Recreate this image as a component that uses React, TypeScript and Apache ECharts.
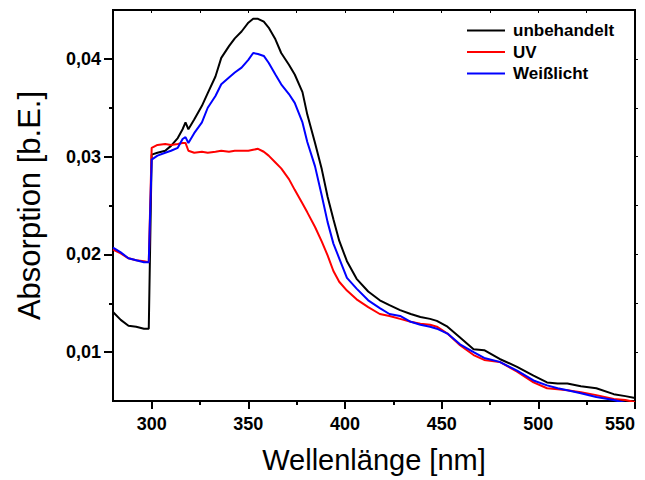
import React, { useEffect, useRef } from "react";
import * as echarts from "echarts";

// Wavelength in nm
const wavelengths = [
  280, 284, 288, 292, 296, 298.5, 300, 303, 307, 310, 313.5, 316, 317.5, 319, 322, 326, 329,
  333, 336, 340, 343, 346.5, 350, 352.5, 355, 358, 360.5, 364, 367, 371, 374, 378, 380.5,
  384.5, 388, 391, 394, 397, 401, 406, 412, 418, 423, 428.5, 434, 439, 444, 447.5, 453,
  459.5, 466.5, 472, 480, 489, 497.5, 504.5, 510, 515, 522, 530, 539, 545, 550,
];

// Absorption values in units of 0.001 [b.E.]
const unbehandelt = [
  14.1, 13.3, 12.7, 12.6, 12.4, 12.4, 30.2, 30.4, 30.6, 31.1, 31.9, 32.8, 33.5, 32.8, 33.8, 35.2, 36.5,
  38.2, 40.1, 41.3, 42.1, 42.8, 43.7, 44.1, 44.1, 43.8, 43.2, 42.0, 40.6, 39.4, 38.4, 36.6, 34.3,
  31.4, 28.7, 25.9, 23.6, 21.4, 19.3, 17.5, 16.2, 15.3, 14.8, 14.3, 13.9, 13.6, 13.4, 13.2, 12.6,
  11.5, 10.3, 10.2, 9.3, 8.5, 7.6, 6.9, 6.8, 6.8, 6.5, 6.3, 5.7, 5.5, 5.3,
];
const uv = [
  20.5, 20.1, 19.6, 19.4, 19.3, 19.2, 30.9, 31.2, 31.3, 31.2, 31.3, 31.4, 31.4, 30.6, 30.4, 30.5, 30.4,
  30.5, 30.6, 30.5, 30.6, 30.6, 30.6, 30.7, 30.8, 30.5, 30.1, 29.4, 28.8, 27.7, 26.6, 25.2, 24.3,
  22.8, 21.3, 19.9, 18.3, 17.2, 16.3, 15.4, 14.6, 13.9, 13.7, 13.4, 13.1, 12.9, 12.8, 12.6, 11.9,
  10.7, 9.7, 9.2, 9.0, 8.0, 6.9, 6.3, 6.2, 6.1, 5.9, 5.6, 5.2, 5.1, 4.9,
];
const weisslicht = [
  20.7, 20.2, 19.6, 19.4, 19.2, 19.2, 29.7, 30.1, 30.4, 30.6, 30.9, 31.8, 32.0, 31.4, 32.4, 33.5, 35.0,
  36.2, 37.4, 38.1, 38.6, 39.1, 39.9, 40.6, 40.5, 40.3, 39.6, 38.4, 37.4, 36.4, 35.5, 33.5, 31.5,
  29.0, 26.0, 23.3, 21.1, 19.6, 17.6, 16.5, 15.3, 14.5, 13.9, 13.7, 13.1, 12.8, 12.6, 12.4, 11.9,
  10.8, 10.0, 9.4, 9.0, 8.1, 7.1, 6.6, 6.3, 6.1, 5.8, 5.4, 5.1, 4.8, 4.6,
];

const seriesNames = ["unbehandelt", "UV", "Weißlicht"];
const seriesColors = ["#000000", "#ff0000", "#0000ff"];
const seriesValues = [unbehandelt, uv, weisslicht];

const xMajorTicks = [300, 350, 400, 450, 500, 550];
const xMinorTicks = [325, 375, 425, 475, 525];
const xTopTicks = [300, 325, 350, 375, 400, 425, 450, 475, 500, 525, 550];
const yMajorTicks = [0.01, 0.02, 0.03, 0.04];
const yMinorTicks = [0.015, 0.025, 0.035];
const yRightTicks = [0.01, 0.015, 0.02, 0.025, 0.03, 0.035, 0.04];

const FONT = "'Liberation Sans', Arial, sans-serif";

export default function App() {
  const ref = useRef<HTMLDivElement>(null);
  useEffect(() => {
    if (!ref.current) return;
    const chart = echarts.init(ref.current, null, { renderer: "svg" });
    const black = "#000";
    chart.setOption({
      animation: false,
      backgroundColor: "#fff",
      grid: {
        left: 113,
        right: 10,
        top: 10,
        bottom: 79,
        outerBoundsMode: "none",
        containLabel: false,
        show: true,
        borderColor: black,
        borderWidth: 2,
        backgroundColor: "transparent",
      },
      legend: {
        orient: "vertical",
        left: 467,
        top: 22,
        padding: 0,
        icon: "rect",
        itemWidth: 38,
        itemHeight: 2,
        itemGap: 4.5,
        data: seriesNames,
        textStyle: {
          fontFamily: FONT,
          fontWeight: "bold",
          fontSize: 17,
          color: black,
          padding: [0, 0, 0, 3],
        },
      },
      xAxis: [
        {
          type: "value",
          min: 280,
          max: 550,
          position: "bottom",
          name: "Wellenlänge [nm]",
          nameLocation: "middle",
          nameGap: 44,
          nameTextStyle: { fontFamily: FONT, fontSize: 29, color: black },
          axisLine: { show: true, lineStyle: { color: black, width: 2 } },
          axisTick: {
            show: true,
            length: 8,
            lineStyle: { color: black, width: 2 },
            customValues: xMajorTicks,
          },
          axisLabel: {
            customValues: xMajorTicks,
            alignMaxLabel: "right",
            fontFamily: FONT,
            fontWeight: "bold",
            fontSize: 18,
            color: black,
            margin: 14,
          },
          splitLine: { show: false },
        },
        {
          type: "value",
          min: 280,
          max: 550,
          position: "bottom",
          axisLine: { show: false },
          axisTick: {
            show: true,
            length: 4,
            lineStyle: { color: black, width: 2 },
            customValues: xMinorTicks,
          },
          axisLabel: { show: false },
          splitLine: { show: false },
        },
        {
          type: "value",
          min: 280,
          max: 550,
          position: "top",
          axisLine: { show: false },
          axisTick: {
            show: true,
            inside: true,
            length: 3,
            lineStyle: { color: black, width: 1 },
            customValues: xTopTicks,
          },
          axisLabel: { show: false },
          splitLine: { show: false },
        },
      ],
      yAxis: [
        {
          type: "value",
          min: 0.005,
          max: 0.045,
          position: "left",
          name: "Absorption [b.E.]",
          nameLocation: "middle",
          nameGap: 68,
          nameRotate: 90,
          nameTextStyle: { fontFamily: FONT, fontSize: 31, color: black },
          axisLine: { show: true, lineStyle: { color: black, width: 2 } },
          axisTick: {
            show: true,
            length: 9,
            lineStyle: { color: black, width: 2 },
            customValues: yMajorTicks,
          },
          axisLabel: {
            customValues: yMajorTicks,
            formatter: (v: number) => v.toFixed(2).replace(".", ","),
            fontFamily: FONT,
            fontWeight: "bold",
            fontSize: 18,
            color: black,
            margin: 12,
          },
          splitLine: { show: false },
        },
        {
          type: "value",
          min: 0.005,
          max: 0.045,
          position: "left",
          axisLine: { show: false },
          axisTick: {
            show: true,
            length: 4,
            lineStyle: { color: black, width: 2 },
            customValues: yMinorTicks,
          },
          axisLabel: { show: false },
          splitLine: { show: false },
        },
        {
          type: "value",
          min: 0.005,
          max: 0.045,
          position: "right",
          axisLine: { show: false },
          axisTick: {
            show: true,
            length: 3,
            lineStyle: { color: black, width: 1 },
            customValues: yRightTicks,
          },
          axisLabel: { show: false },
          splitLine: { show: false },
        },
      ],
      series: seriesNames.map((name, i) => ({
        name,
        type: "line",
        xAxisIndex: 0,
        yAxisIndex: 0,
        symbol: "none",
        clip: true,
        color: seriesColors[i],
        lineStyle: { color: seriesColors[i], width: 2 },
        data: wavelengths.map((w, j) => [w, seriesValues[i][j] / 1000]),
      })),
    });
    return () => chart.dispose();
  }, []);
  return (
    <div
      ref={ref}
      style={{ position: "absolute", left: 0, top: 0, width: 645, height: 480 }}
    />
  );
}
